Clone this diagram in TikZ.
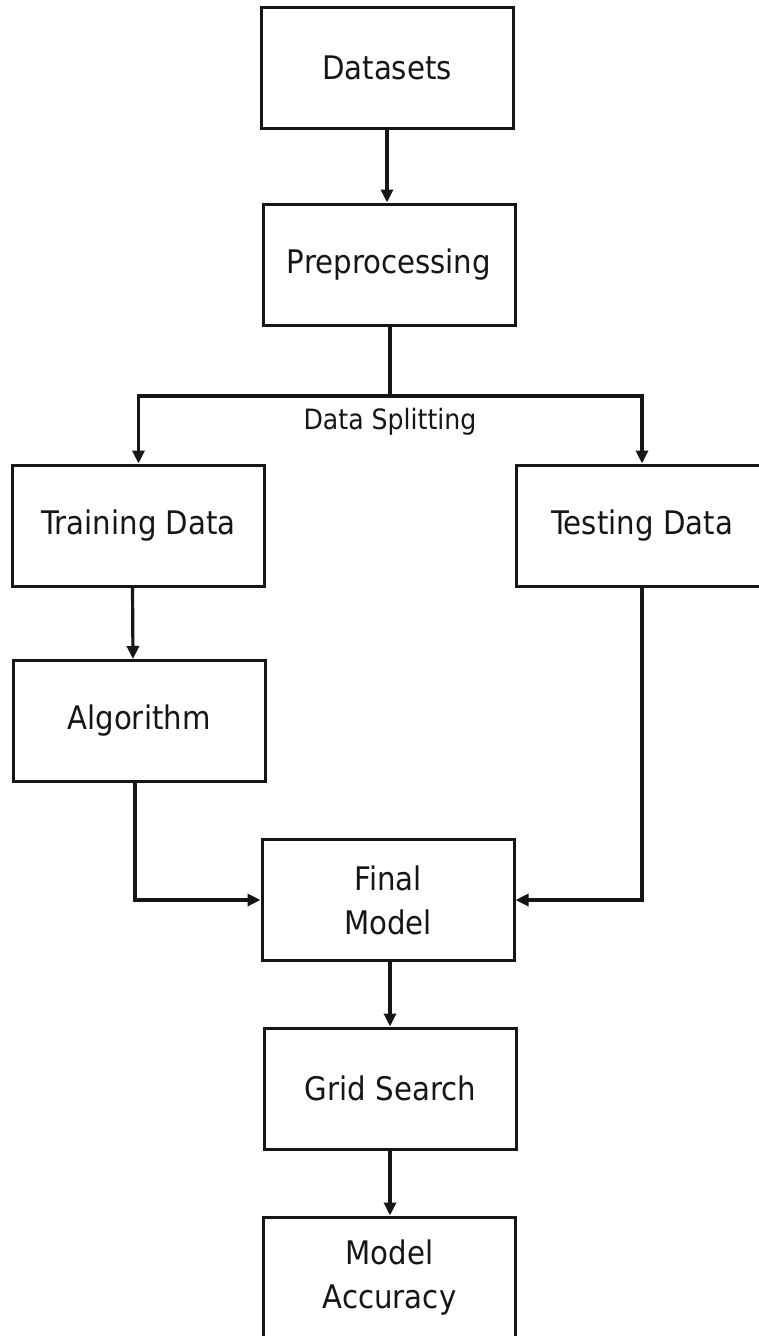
\documentclass[tikz,border=0pt]{standalone}
\usepackage{fontspec}
\setmainfont{DejaVu Sans}[FakeStretch=0.9]
\usetikzlibrary{arrows.meta,calc}
\definecolor{ink}{HTML}{161616}
\begin{document}
\begin{tikzpicture}[x=1pt,y=-1pt,
  box/.style={draw=ink, line width=3pt, minimum width=252pt, minimum height=121pt,
    inner sep=0pt, text=ink, align=center,
    font=\fontsize{32.5}{44}\selectfont},
  conn/.style={draw=ink, line width=3.2pt},
  arr/.style={conn, -{Triangle[length=13pt,width=12pt]}},
  lbl/.style={text=ink, font=\fontsize{28}{32}\selectfont, inner sep=0pt}]
\useasboundingbox (0,0) rectangle (759,1336);
\clip (0,0) rectangle (759,1336);
\fill[white] (0,0) rectangle (759,1336);

\node[box] (ds) at (387,67.5) {Datasets};
\node[box] (pp) at (389,264.5) {Preprocessing};
\node[box] (tr) at (138.5,525.5) {Training Data};
\node[box] (te) at (642,525.5) {Testing Data};
\node[box] (al) at (139,721) {Algorithm};
\node[box] (fm) at (388,900) {Final\\Model};
\node[box] (gs) at (390.5,1088.5) {Grid Search};
\node[box] (ma) at (389.5,1277.5) {Model\\Accuracy};

\coordinate (split) at (390,396);
\node[lbl] (dsl) at (390,422) {Data Splitting};

\draw[arr] (ds.south) -- (ds.south |- pp.north);
\draw[conn] (pp.south -| split) -- (split);
\draw[arr] (split) -| (tr.north);
\draw[arr] (split) -| (te.north);
\draw[arr] ([xshift=-6pt]tr.south) -- ([xshift=-6pt]al.north);
\draw[arr] ([xshift=-4pt]al.south) |- (fm.west);
\draw[arr] (te.south) |- (fm.east);
\draw[arr] (fm.south -| 390,0) -- (gs.north -| 390,0);
\draw[arr] (gs.south -| 390,0) -- (ma.north -| 390,0);
\end{tikzpicture}
\end{document}
